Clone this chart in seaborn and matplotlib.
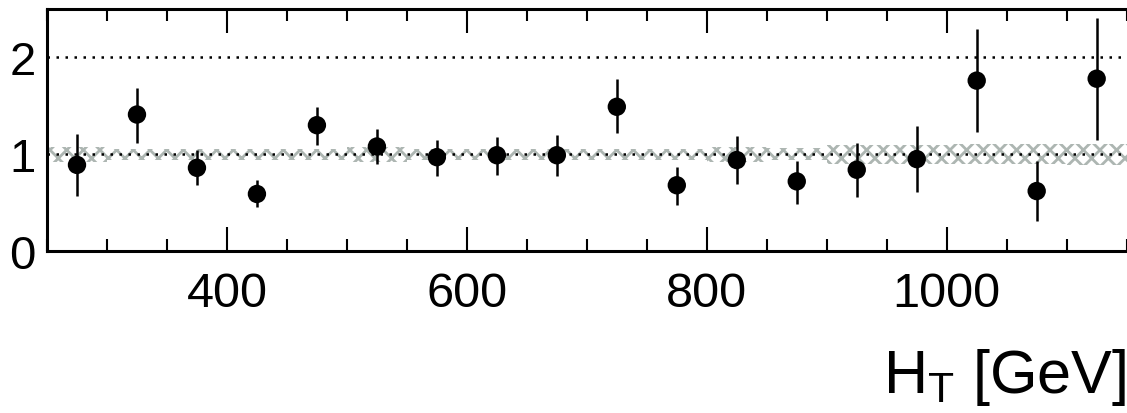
import numpy as np
import pandas as pd
import seaborn as sns
import matplotlib.pyplot as plt
from matplotlib.ticker import MultipleLocator

# bin edges and centres in HT
edges = [250, 300, 350, 400, 450, 500, 550, 600, 650, 700, 750, 800, 850, 900, 950, 1000, 1050, 1100, 1150]
ht = [275, 325, 375, 425, 475, 525, 575, 625, 675, 725, 775, 825, 875, 925, 975, 1025, 1075, 1125]

# data / prediction ratio
ratio = [0.89, 1.41, 0.86, 0.59, 1.30, 1.08, 0.97, 0.99, 0.99, 1.49, 0.68, 0.94, 0.72, 0.84, 0.95, 1.76, 0.62, 1.78]
err_up = [0.32, 0.27, 0.18, 0.14, 0.19, 0.18, 0.18, 0.19, 0.21, 0.29, 0.19, 0.25, 0.21, 0.28, 0.34, 0.53, 0.31, 0.63]
err_dn = [0.32, 0.29, 0.18, 0.13, 0.20, 0.18, 0.19, 0.20, 0.21, 0.27, 0.20, 0.25, 0.23, 0.28, 0.34, 0.53, 0.31, 0.63]

# systematic band half widths per bin
band = [0.075, 0.055, 0.055, 0.055, 0.055, 0.075, 0.055, 0.055, 0.055, 0.055, 0.055, 0.075, 0.06, 0.10, 0.10, 0.105, 0.105, 0.11]

df = pd.DataFrame({'ht': ht, 'ratio': ratio})

sns.set_style("ticks")
plt.rcParams['font.family'] = ['Liberation Sans', 'DejaVu Sans']
plt.rcParams['mathtext.fontset'] = 'custom'
plt.rcParams['mathtext.rm'] = 'Liberation Sans'
plt.rcParams['mathtext.it'] = 'Liberation Sans'
plt.rcParams['hatch.linewidth'] = 2.0
for key in ['text.color', 'axes.edgecolor', 'axes.labelcolor', 'xtick.color', 'ytick.color']:
    plt.rcParams[key] = 'black'

fig = plt.figure(figsize=(11.27, 4.14), dpi=100)
ax = fig.add_axes([0.0417, 0.391, 0.958, 0.585])

lo = [1 - b for b in band] + [1 - band[-1]]
hi = [1 + b for b in band] + [1 + band[-1]]
ax.fill_between(edges, lo, hi, step='post', facecolor='none',
                edgecolor='#adb6b2', hatch='xx', linewidth=0, zorder=1)

ax.axhline(1, color='black', ls=(0, (1, 2.6)), lw=1.8, zorder=2)
ax.axhline(2, color='black', ls=(0, (1, 2.6)), lw=1.8, zorder=2)

ax.errorbar(ht, ratio, yerr=[err_dn, err_up], fmt='none', ecolor='black',
            elinewidth=1.8, capsize=0, zorder=3)
sns.scatterplot(data=df, x='ht', y='ratio', color='black', s=175,
                edgecolor='none', ax=ax, zorder=4)

ax.set_xlim(250, 1150)
ax.set_ylim(0, 2.5)
ax.xaxis.set_major_locator(MultipleLocator(200))
ax.xaxis.set_minor_locator(MultipleLocator(50))
ax.set_yticks([0, 1, 2])
ax.tick_params(axis='x', which='both', direction='in', top=True, bottom=True,
               labelsize=35, width=1.5, pad=14)
ax.tick_params(axis='x', which='major', length=17)
ax.tick_params(axis='x', which='minor', length=8.5)
ax.tick_params(axis='y', length=0, labelsize=34, pad=8)

for s in ['left', 'top', 'bottom']:
    ax.spines[s].set_linewidth(2.2)
ax.spines['right'].set_visible(False)

ax.set_xlabel(r'H$_{\mathrm{T}}$ [GeV]', fontsize=44, loc='right', labelpad=22)
ax.set_ylabel('')

fig.savefig('out.png', dpi=100)
